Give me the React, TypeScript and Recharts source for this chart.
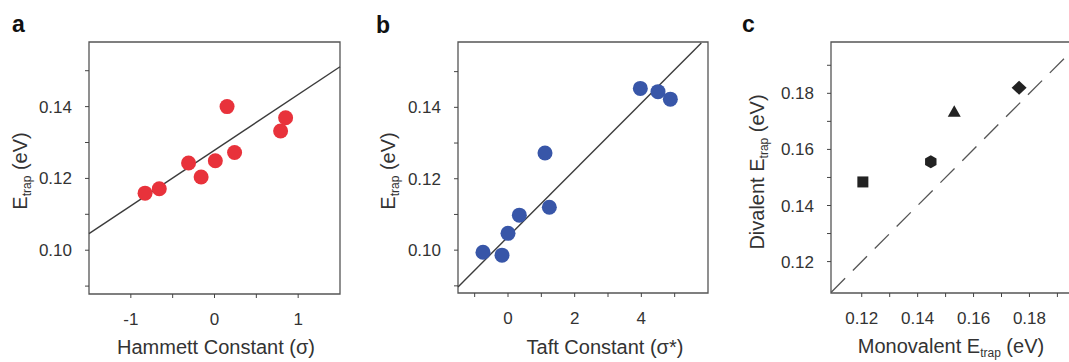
import React from "react";
import { ScatterChart, Scatter, XAxis, YAxis, ReferenceLine, ReferenceArea } from "recharts";

const FONT = '"Liberation Sans", Arial, Helvetica, sans-serif';

// panel a: Hammett constant vs E_trap
const hammettSigma = [-0.83, -0.66, -0.31, -0.16, 0.01, 0.15, 0.24, 0.79, 0.85];
const hammettEtrap = [0.1159, 0.1171, 0.1243, 0.1204, 0.1249, 0.14, 0.1272, 0.1332, 0.1369];
const hammettFit = [
  { x: -1.5, y: 0.1046 },
  { x: 1.5, y: 0.1511 },
];
const hammettXTicks = [-1, -0.5, 0, 0.5, 1];
const hammettXLabels = [-1, 0, 1];

// panel b: Taft constant vs E_trap
const taftSigma = [-0.75, -0.18, 0.0, 0.34, 1.11, 1.24, 3.97, 4.5, 4.87];
const taftEtrap = [0.0994, 0.0986, 0.1047, 0.1098, 0.1272, 0.112, 0.1453, 0.1444, 0.1423];
const taftFit = [
  { x: -1.5, y: 0.0897 },
  { x: 5.8, y: 0.158 },
];
const taftXTicks = [-1, 0, 1, 2, 3, 4, 5];
const taftXLabels = [0, 2, 4];

const etrapTicks = [0.09, 0.1, 0.11, 0.12, 0.13, 0.14, 0.15];
const etrapLabels = [0.1, 0.12, 0.14];

// panel c: monovalent vs divalent E_trap
const ionMarkers = ["square", "hexagon", "triangle", "diamond"];
const monovalentEtrap = [0.1204, 0.1447, 0.1531, 0.1763];
const divalentEtrap = [0.1484, 0.1556, 0.1734, 0.182];
const valenceTicks = [0.12, 0.13, 0.14, 0.15, 0.16, 0.17, 0.18, 0.19];
const valenceLabels = [0.12, 0.14, 0.16, 0.18];
const parity = [
  { x: 0.109, y: 0.109 },
  { x: 0.1983, y: 0.1983 },
];

const hammettData = hammettSigma.map((x, i) => ({ x, y: hammettEtrap[i] }));
const taftData = taftSigma.map((x, i) => ({ x, y: taftEtrap[i] }));
const valenceData = ionMarkers.map((marker, i) => ({ marker, x: monovalentEtrap[i], y: divalentEtrap[i] }));

const tickStyle = { fontSize: 17, fill: "#333", fontFamily: FONT };
const frame = "#555";

const labelIf = (labels: number[], digits: number) => (v: number) =>
  labels.some((l) => Math.abs(l - v) < 1e-9) ? v.toFixed(digits) : "";

const Dot = (color: string) => (p: any) => <circle cx={p.cx} cy={p.cy} r={7.5} fill={color} />;

function IonMarker(p: any) {
  const { cx, cy } = p;
  const fill = "#222";
  switch (p.payload.marker) {
    case "square":
      return <rect x={cx - 5.5} y={cy - 5.5} width={11} height={11} fill={fill} />;
    case "hexagon": {
      const pts = [0, 1, 2, 3, 4, 5]
        .map((k) => {
          const a = ((-90 + k * 60) * Math.PI) / 180;
          return `${cx + 6.6 * Math.cos(a)},${cy + 6.6 * Math.sin(a)}`;
        })
        .join(" ");
      return <polygon points={pts} fill={fill} />;
    }
    case "triangle":
      return <polygon points={`${cx},${cy - 6.5} ${cx + 6.5},${cy + 5} ${cx - 6.5},${cy + 5}`} fill={fill} />;
    default:
      return <polygon points={`${cx},${cy - 7} ${cx + 7.5},${cy} ${cx},${cy + 7} ${cx - 7.5},${cy}`} fill={fill} />;
  }
}

function Title({ x, y, pre, sub, post, vertical }: any) {
  return (
    <text
      x={x}
      y={y}
      textAnchor="middle"
      fontFamily={FONT}
      fontSize={20}
      fill="#333"
      transform={vertical ? `rotate(-90 ${x} ${y})` : undefined}
    >
      <tspan>{pre}</tspan>
      {sub && (
        <tspan fontSize={12} dy={4}>
          {sub}
        </tspan>
      )}
      {post && <tspan dy={sub ? -4 : 0}>{post}</tspan>}
    </text>
  );
}

export default function App() {
  return (
    <div style={{ position: "fixed", left: 0, top: 0, width: 1069, height: 362, overflow: "hidden", background: "#fff" }}>
      <div style={{ position: "absolute", left: 0, top: 0 }}>
        <ScatterChart width={360} height={362} margin={{ top: 42, right: 20, bottom: 38, left: 49 }}>
          <XAxis
            type="number"
            dataKey="x"
            domain={[-1.5, 1.5]}
            ticks={hammettXTicks}
            tickFormatter={labelIf(hammettXLabels, 0)}
            interval={0}
            height={30}
            tickSize={4}
            tickMargin={15}
            axisLine={false}
            tickLine={{ stroke: "#444" }}
            tick={tickStyle}
            allowDataOverflow
          />
          <YAxis
            type="number"
            dataKey="y"
            domain={[0.0878, 0.158]}
            ticks={etrapTicks}
            tickFormatter={labelIf(etrapLabels, 2)}
            interval={0}
            width={40}
            tickSize={4}
            tickMargin={13}
            axisLine={false}
            tickLine={{ stroke: "#444" }}
            tick={tickStyle}
            allowDataOverflow
          />
          <ReferenceArea x1={-1.5} x2={1.5} y1={0.0878} y2={0.158} fill="none" stroke={frame} strokeWidth={1.3} />
          <Scatter data={hammettData} shape={Dot("#e8323b")} isAnimationActive={false} />
          <ReferenceLine segment={hammettFit} stroke="#3c3c3c" strokeWidth={1.4} />
        </ScatterChart>
      </div>

      <div style={{ position: "absolute", left: 360, top: 0 }}>
        <ScatterChart width={360} height={362} margin={{ top: 42, right: 12, bottom: 39, left: 58 }}>
          <XAxis
            type="number"
            dataKey="x"
            domain={[-1.5, 6]}
            ticks={taftXTicks}
            tickFormatter={labelIf(taftXLabels, 0)}
            interval={0}
            height={30}
            tickSize={4}
            tickMargin={15}
            axisLine={false}
            tickLine={{ stroke: "#444" }}
            tick={tickStyle}
            allowDataOverflow
          />
          <YAxis
            type="number"
            dataKey="y"
            domain={[0.088, 0.1583]}
            ticks={etrapTicks}
            tickFormatter={labelIf(etrapLabels, 2)}
            interval={0}
            width={40}
            tickSize={4}
            tickMargin={13}
            axisLine={false}
            tickLine={{ stroke: "#444" }}
            tick={tickStyle}
            allowDataOverflow
          />
          <ReferenceArea x1={-1.5} x2={6} y1={0.088} y2={0.1583} fill="none" stroke={frame} strokeWidth={1.3} />
          <Scatter data={taftData} shape={Dot("#3856a8")} isAnimationActive={false} />
          <ReferenceLine segment={taftFit} stroke="#3c3c3c" strokeWidth={1.4} />
        </ScatterChart>
      </div>

      <div style={{ position: "absolute", left: 720, top: 0 }}>
        <ScatterChart width={400} height={362} margin={{ top: 42, right: 38, bottom: 39, left: 71 }}>
          <XAxis
            type="number"
            dataKey="x"
            domain={[0.109, 0.1988]}
            ticks={valenceTicks}
            tickFormatter={labelIf(valenceLabels, 2)}
            interval={0}
            height={30}
            tickSize={4}
            tickMargin={15}
            axisLine={false}
            tickLine={{ stroke: "#444" }}
            tick={tickStyle}
            allowDataOverflow
          />
          <YAxis
            type="number"
            dataKey="y"
            domain={[0.1088, 0.1983]}
            ticks={valenceTicks}
            tickFormatter={labelIf(valenceLabels, 2)}
            interval={0}
            width={40}
            tickSize={4}
            tickMargin={13}
            axisLine={false}
            tickLine={{ stroke: "#444" }}
            tick={tickStyle}
            allowDataOverflow
          />
          <ReferenceArea x1={0.109} x2={0.1988} y1={0.1088} y2={0.1983} fill="none" stroke={frame} strokeWidth={1.3} />
          <ReferenceLine segment={parity} stroke="#555" strokeWidth={1.3} strokeDasharray="20 11" />
          <Scatter data={valenceData} shape={IonMarker} isAnimationActive={false} />
        </ScatterChart>
      </div>

      <svg width={1069} height={362} style={{ position: "absolute", left: 0, top: 0, pointerEvents: "none" }}>
        <g fontFamily={FONT} fontWeight="bold" fontSize={23} fill="#111">
          <text x={12} y={32}>a</text>
          <text x={376} y={33}>b</text>
          <text x={742} y={32}>c</text>
        </g>
        <Title x={216} y={354} pre="Hammett Constant (σ)" />
        <Title x={605} y={354} pre="Taft Constant (σ*)" />
        <Title x={951} y={353} pre="Monovalent E" sub="trap" post=" (eV)" />
        <Title x={27} y={171} pre="E" sub="trap" post=" (eV)" vertical />
        <Title x={395} y={171} pre="E" sub="trap" post=" (eV)" vertical />
        <Title x={764} y={172} pre="Divalent E" sub="trap" post=" (eV)" vertical />
      </svg>
    </div>
  );
}
